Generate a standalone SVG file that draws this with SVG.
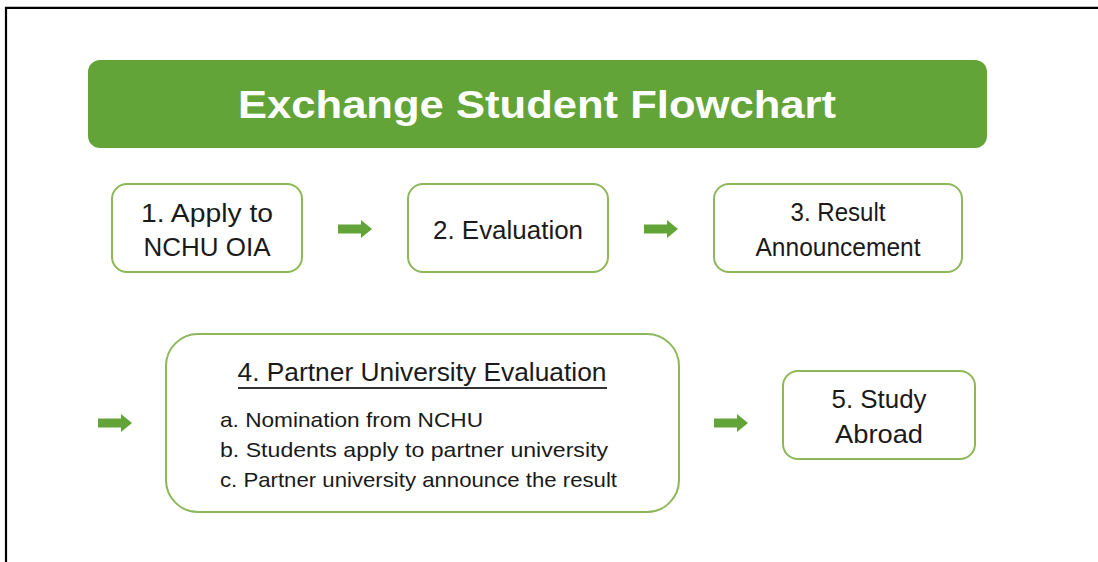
<svg xmlns="http://www.w3.org/2000/svg" width="1098" height="562" viewBox="0 0 1098 562">
<defs>
<style>
.frame{fill:none;stroke:#000;stroke-width:2.2}
.box{fill:#fff;stroke:#8CB85A;stroke-width:2}
.t{font-family:"Liberation Sans",Arial,sans-serif;fill:#1a1a1a;text-anchor:middle}
.b{font-size:26px}
.s{font-size:21px;text-anchor:start}
.arrow{fill:#62A437}
</style>
<path id="arr" class="arrow" d="M0,-4.5 H23 V-9 L34,0 L23,9 V4.5 H0 Z"/>
</defs>
<rect width="1098" height="562" fill="#fff"/>
<path class="frame" d="M6,562 V7.8 H1098"/>
<g id="title">
<rect x="88" y="60" width="899" height="88" rx="12" fill="#62A437"/>
<text x="537" y="118" font-family="'Liberation Sans',Arial,sans-serif" font-weight="bold" font-size="38" fill="#fff" text-anchor="middle" textLength="598" lengthAdjust="spacingAndGlyphs">Exchange Student Flowchart</text>
</g>
<g id="connectors">
<use href="#arr" x="338" y="229"/>
<use href="#arr" x="644" y="229"/>
<use href="#arr" x="98" y="423"/>
<use href="#arr" x="714" y="423"/>
</g>
<g id="node1">
<rect class="box" x="112" y="184" width="190" height="88" rx="15"/>
<text class="t b" x="207" y="222" textLength="132" lengthAdjust="spacingAndGlyphs">1. Apply to</text>
<text class="t b" x="207" y="256" textLength="127" lengthAdjust="spacingAndGlyphs">NCHU OIA</text>
</g>
<g id="node2">
<rect class="box" x="408" y="184" width="200" height="88" rx="15"/>
<text class="t b" x="508" y="239" textLength="150" lengthAdjust="spacingAndGlyphs">2. Evaluation</text>
</g>
<g id="node3">
<rect class="box" x="714" y="184" width="248" height="88" rx="15"/>
<text class="t b" x="838" y="221" textLength="95" lengthAdjust="spacingAndGlyphs">3. Result</text>
<text class="t b" x="838" y="256" textLength="165" lengthAdjust="spacingAndGlyphs">Announcement</text>
</g>
<g id="node4">
<rect class="box" x="166" y="334" width="513" height="178" rx="32"/>
<text class="t" x="422" y="381" font-size="25" textLength="369" lengthAdjust="spacingAndGlyphs">4. Partner University Evaluation</text>
<line x1="238" y1="388" x2="607" y2="388" stroke="#333" stroke-width="2"/>
<text class="t s" x="220" y="427" textLength="263" lengthAdjust="spacingAndGlyphs">a. Nomination from NCHU</text>
<text class="t s" x="220" y="457" textLength="388" lengthAdjust="spacingAndGlyphs">b. Students apply to partner university</text>
<text class="t s" x="220" y="487" textLength="397" lengthAdjust="spacingAndGlyphs">c. Partner university announce the result</text>
</g>
<g id="node5">
<rect class="box" x="783" y="371" width="192" height="88" rx="15"/>
<text class="t b" x="879" y="408" textLength="95" lengthAdjust="spacingAndGlyphs">5. Study</text>
<text class="t b" x="879" y="443" textLength="88" lengthAdjust="spacingAndGlyphs">Abroad</text>
</g>
</svg>
